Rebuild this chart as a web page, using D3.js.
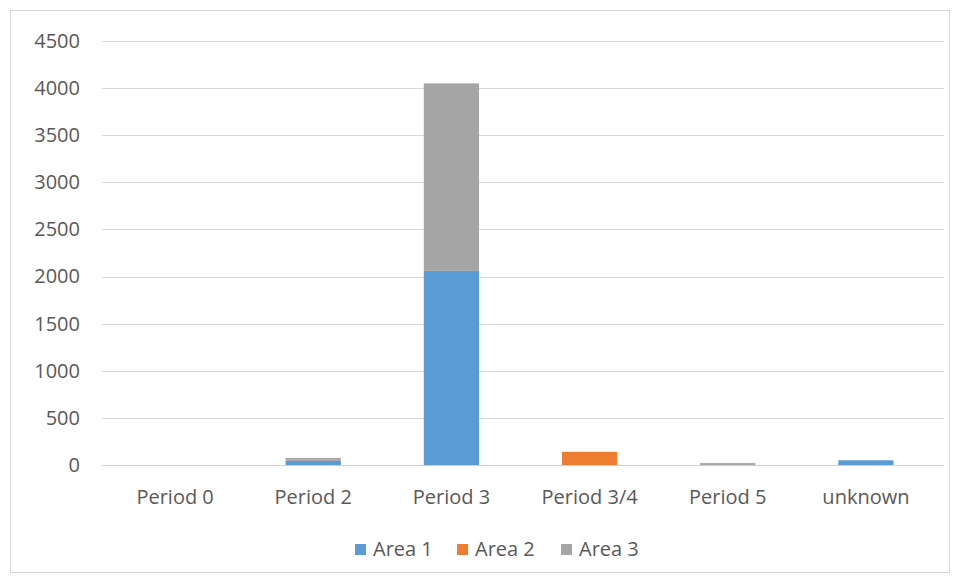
<!DOCTYPE html>
<html>
<head>
<meta charset="utf-8">
<script src="https://cdn.jsdelivr.net/npm/d3@7"></script>
<style>
  html, body { margin: 0; padding: 0; background: #fff; }
  svg { display: block; font-family: "Open Sans", "Liberation Sans", sans-serif; }
</style>
</head>
<body>
<svg id="chart" width="960" height="582"></svg>
<script>
// Categories along the x axis
const categories = ["Period 0", "Period 2", "Period 3", "Period 3/4", "Period 5", "unknown"];
// Stacked series values, one entry per category
const area1 = [0, 50, 2060, 0, 0, 50];
const area2 = [0, 5, 0, 140, 0, 0];
const area3 = [0, 20, 1990, 0, 20, 0];
const seriesNames = ["Area 1", "Area 2", "Area 3"];
const seriesColors = ["#5b9bd5", "#ed7d31", "#a5a5a5"];
const yTicks = [0, 500, 1000, 1500, 2000, 2500, 3000, 3500, 4000, 4500];

const svg = d3.select("#chart");
const W = 960, H = 582;
const textColor = "#595959";
const fontSize = "20px";

// outer chart frame
svg.append("rect")
  .attr("x", 10.5).attr("y", 10.5)
  .attr("width", W - 21).attr("height", H - 20)
  .attr("fill", "#fff").attr("stroke", "#d9d9d9");

const plot = { left: 102, right: 944, top: 41, bottom: 465 };

// category bands sit slightly inside the gridline span
const x = d3.scaleBand().domain(categories)
  .range([106, 935]).paddingInner(0.6).paddingOuter(0.3);
const y = d3.scaleLinear().domain([0, 4500]).range([plot.bottom, plot.top]);

// horizontal gridlines
svg.append("g").selectAll("line").data(yTicks).join("line")
  .attr("x1", plot.left).attr("x2", plot.right)
  .attr("y1", d => Math.round(y(d)) + 0.5).attr("y2", d => Math.round(y(d)) + 0.5)
  .attr("stroke", "#d9d9d9").attr("stroke-width", 1);

// y axis labels
const yAxis = d3.axisLeft(y).tickValues(yTicks).tickFormat(d3.format("d")).tickSize(0).tickPadding(0);
const yg = svg.append("g").attr("transform", `translate(${plot.left - 22},0)`).call(yAxis);
yg.select(".domain").remove();
yg.selectAll("text").attr("fill", textColor).style("font-size", fontSize)
  .style("font-family", "\"Open Sans\", sans-serif");

// stacked bars
const rows = categories.map((c, i) => ({ cat: c, "Area 1": area1[i], "Area 2": area2[i], "Area 3": area3[i] }));
const stacked = d3.stack().keys(seriesNames)(rows);

svg.append("g").selectAll("g").data(stacked).join("g")
  .attr("fill", (d, i) => seriesColors[i])
  .selectAll("rect").data(d => d).join("rect")
  .attr("x", d => x(d.data.cat))
  .attr("width", x.bandwidth())
  .attr("y", d => y(d[1]))
  .attr("height", d => Math.max(0, y(d[0]) - y(d[1])));

// baseline
svg.append("line")
  .attr("x1", plot.left).attr("x2", plot.right)
  .attr("y1", plot.bottom + 0.5).attr("y2", plot.bottom + 0.5)
  .attr("stroke", "#d0d0d0");

// x axis labels
const xAxis = d3.axisBottom(x).tickSize(0).tickPadding(0);
const xg = svg.append("g").attr("transform", `translate(0,${plot.bottom + 32})`).call(xAxis);
xg.select(".domain").remove();
xg.selectAll("text").attr("fill", textColor).style("font-size", fontSize)
  .style("font-family", "\"Open Sans\", sans-serif").attr("y", 0).attr("dy", "0.35em");

// legend
const legendX = [355, 457, 561];
const lg = svg.append("g").selectAll("g").data(seriesNames).join("g")
  .attr("transform", (d, i) => `translate(${legendX[i]},549)`);
lg.append("rect").attr("x", 0).attr("y", -5).attr("width", 11).attr("height", 11)
  .attr("fill", (d, i) => seriesColors[i]);
lg.append("text").attr("x", 18).attr("y", 0).attr("dy", "0.35em")
  .attr("fill", textColor).style("font-size", fontSize).text(d => d);
</script>
</body>
</html>
